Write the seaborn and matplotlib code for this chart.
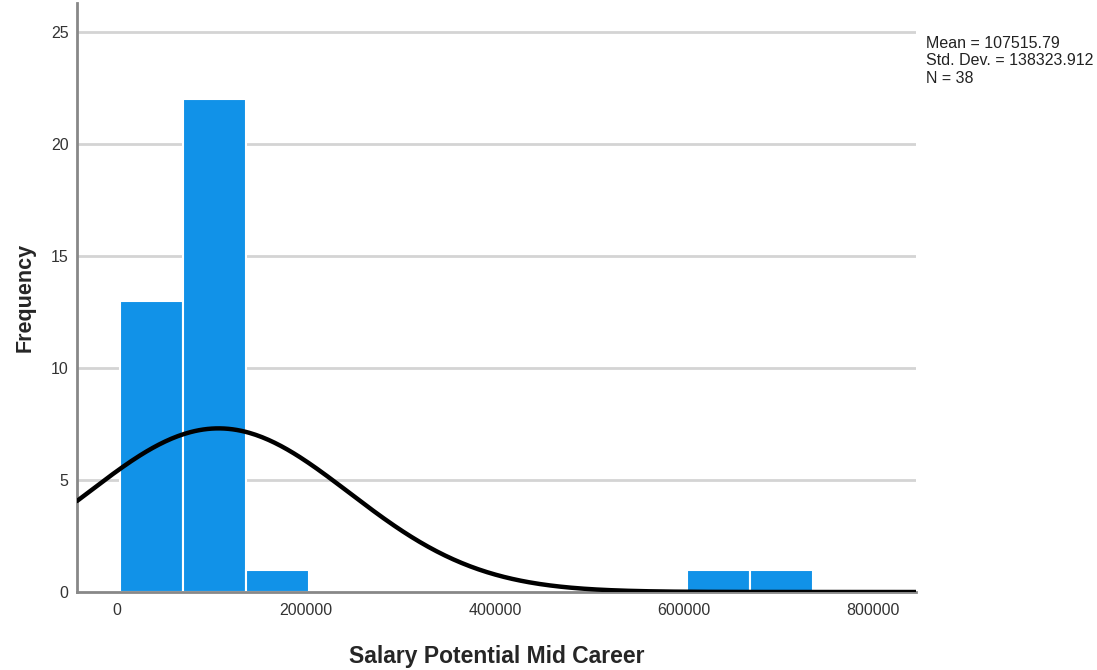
import numpy as np
import pandas as pd
import seaborn as sns
import matplotlib.pyplot as plt

# histogram as read from the SPSS output
bin_start = 3200
bin_width = 66667
counts = [13, 22, 1, 0, 0, 0, 0, 0, 0, 1, 1]

# summary statistics printed on the chart
mean_val = 107515.79
std_val = 138323.912
n_val = 38

xticks = [0, 200000, 400000, 600000, 800000]
yticks = [0, 5, 10, 15, 20, 25]

edges = bin_start + bin_width * np.arange(len(counts) + 1)
centers = (edges[:-1] + edges[1:]) / 2
hist_df = pd.DataFrame({'salary': centers, 'count': counts})

sns.set_style('white')
plt.rcParams['font.family'] = ['Liberation Sans', 'DejaVu Sans']

fig = plt.figure(figsize=(10.97, 6.70), dpi=100)
ax = fig.add_axes([0.0702, 0.1164, 0.7648, 0.8791])

x_min, x_max = -42300, 845500
ax.set_xlim(x_min, x_max)
ax.set_ylim(0, 26.3)

for y in yticks[1:]:
    ax.axhline(y, color='#d4d4d4', lw=2, zorder=0)

sns.histplot(data=hist_df, x='salary', weights='count', binwidth=bin_width,
             binrange=(float(edges[0]), float(edges[-1])), ax=ax,
             color='#1192e8', alpha=1, edgecolor='white', linewidth=1.5, zorder=2)

# normal curve scaled to the histogram
xs = np.linspace(x_min, x_max, 400)
ys = n_val * bin_width / (std_val * np.sqrt(2 * np.pi)) * np.exp(-0.5 * ((xs - mean_val) / std_val) ** 2)
sns.lineplot(x=xs, y=ys, color='black', lw=3.2, ax=ax, zorder=3)

ax.set_xticks(xticks)
ax.set_xticklabels([str(t) for t in xticks])
ax.set_yticks(yticks)
ax.tick_params(axis='both', length=0, labelsize=11.5, colors='#333333')
ax.tick_params(axis='x', pad=8)
ax.tick_params(axis='y', pad=6)

for s in ['top', 'right']:
    ax.spines[s].set_visible(False)
ax.spines['left'].set_color('#888888')
ax.spines['left'].set_linewidth(2)
ax.spines['bottom'].set_color('#888888')
ax.spines['bottom'].set_linewidth(2)

ax.set_xlabel('Salary Potential Mid Career', fontsize=16.5, fontweight='bold', labelpad=19)
ax.set_ylabel('Frequency', fontsize=15.5, fontweight='bold', labelpad=11)

fig.text(926 / 1097, 1 - 36 / 670,
         'Mean = %.2f\nStd. Dev. = %.3f\nN = %d' % (mean_val, std_val, n_val),
         fontsize=11.5, va='top', ha='left', linespacing=1.2, color='#222222')

fig.savefig('out.png', dpi=100)
